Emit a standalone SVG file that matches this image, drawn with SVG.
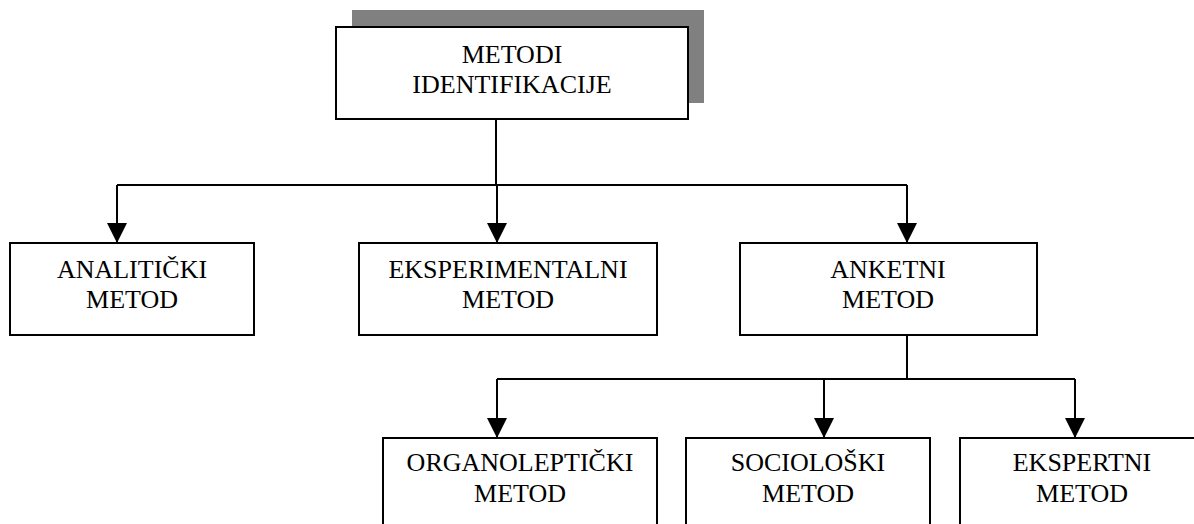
<svg xmlns="http://www.w3.org/2000/svg" width="1194" height="524" viewBox="0 0 1194 524">
<style>
.box{fill:#fff;stroke:#000;stroke-width:2}
.lbl{font-family:'Liberation Serif','Times New Roman',serif;font-size:26px;fill:#000;text-anchor:middle}
.con{fill:none;stroke:#000;stroke-width:2}
</style>
<defs>
<marker id="arr" markerUnits="userSpaceOnUse" markerWidth="20" markerHeight="20" refX="20" refY="10" orient="auto">
<path d="M0,0 L20,10 L0,20 z" fill="#000"/>
</marker>
</defs>
<rect width="1194" height="524" fill="#fff"/>
<g id="connectors">
<path class="con" d="M496,119 V185"/>
<path class="con" d="M117,185 H907"/>
<path class="con" d="M117,185 V243" marker-end="url(#arr)"/>
<path class="con" d="M497,185 V243" marker-end="url(#arr)"/>
<path class="con" d="M907,185 V243" marker-end="url(#arr)"/>
<path class="con" d="M907,335 V379"/>
<path class="con" d="M497,379 H1075"/>
<path class="con" d="M497,379 V438" marker-end="url(#arr)"/>
<path class="con" d="M824,379 V438" marker-end="url(#arr)"/>
<path class="con" d="M1075,379 V438" marker-end="url(#arr)"/>
</g>
<g id="root">
<rect x="352" y="10" width="352" height="93" fill="#808080"/>
<rect class="box" x="336" y="27" width="352" height="92"/>
<text class="lbl" x="512" y="63">METODI</text>
<text class="lbl" x="512" y="93">IDENTIFIKACIJE</text>
</g>
<g id="analiticki">
<rect class="box" x="10" y="243" width="244" height="92"/>
<text class="lbl" x="132" y="278">ANALITIČKI</text>
<text class="lbl" x="132" y="308">METOD</text>
</g>
<g id="eksperimentalni">
<rect class="box" x="359" y="243" width="298" height="92"/>
<text class="lbl" x="508" y="278">EKSPERIMENTALNI</text>
<text class="lbl" x="508" y="308">METOD</text>
</g>
<g id="anketni">
<rect class="box" x="740" y="243" width="297" height="92"/>
<text class="lbl" x="888" y="278">ANKETNI</text>
<text class="lbl" x="888" y="308">METOD</text>
</g>
<g id="organolepticki">
<rect class="box" x="383" y="438" width="274" height="100"/>
<text class="lbl" x="520" y="471">ORGANOLEPTIČKI</text>
<text class="lbl" x="520" y="502">METOD</text>
</g>
<g id="socioloski">
<rect class="box" x="686" y="438" width="244" height="100"/>
<text class="lbl" x="808" y="471">SOCIOLOŠKI</text>
<text class="lbl" x="808" y="502">METOD</text>
</g>
<g id="ekspertni">
<rect class="box" x="960" y="438" width="244" height="100"/>
<text class="lbl" x="1082" y="471">EKSPERTNI</text>
<text class="lbl" x="1082" y="502">METOD</text>
</g>
</svg>
